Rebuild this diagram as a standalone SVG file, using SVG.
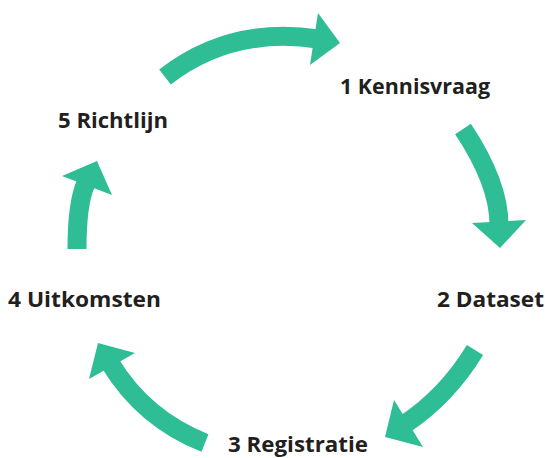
<svg xmlns="http://www.w3.org/2000/svg" width="545" height="458" viewBox="0 0 545 458">
<style>
.body{fill:none;stroke:#2ebd95;stroke-width:19;stroke-linecap:butt}
.head{fill:#2ebd95}
.lbl{font-family:"Open Sans","Noto Sans",sans-serif;font-weight:bold;font-size:21px;fill:#231f20}
</style>
<rect width="545" height="458" fill="#fff"/>
<g id="connectors">
<g id="arrow-1-2"><path class="body" d="M165,77 Q231,26 318,39"/><polygon class="head" points="318,13 340,43 310,65"/></g>
<g id="arrow-2-3"><path class="body" d="M463,129 Q499,183 499,225"/><polygon class="head" points="472,223 500,248 526,220"/></g>
<g id="arrow-3-4"><path class="body" d="M475,350 Q447,396 405,424"/><polygon class="head" points="394,400 385,437 423,447"/></g>
<g id="arrow-4-5"><path class="body" d="M205,443 Q144,419 110,363"/><polygon class="head" points="89,379 98,343 135,353"/></g>
<g id="arrow-5-1"><path class="body" d="M77,249 Q77,203 86,183"/><polygon class="head" points="62,176 97,161 112,195"/></g>
</g>
<g id="node1"><text class="lbl" x="340" y="94" textLength="150" lengthAdjust="spacingAndGlyphs">1 Kennisvraag</text></g>
<g id="node2"><text class="lbl" x="437" y="307" textLength="107" lengthAdjust="spacingAndGlyphs">2 Dataset</text></g>
<g id="node3"><text class="lbl" x="228" y="452" textLength="140" lengthAdjust="spacingAndGlyphs">3 Registratie</text></g>
<g id="node4"><text class="lbl" x="8" y="307" textLength="153" lengthAdjust="spacingAndGlyphs">4 Uitkomsten</text></g>
<g id="node5"><text class="lbl" x="58" y="128" textLength="110" lengthAdjust="spacingAndGlyphs">5 Richtlijn</text></g>
</svg>
